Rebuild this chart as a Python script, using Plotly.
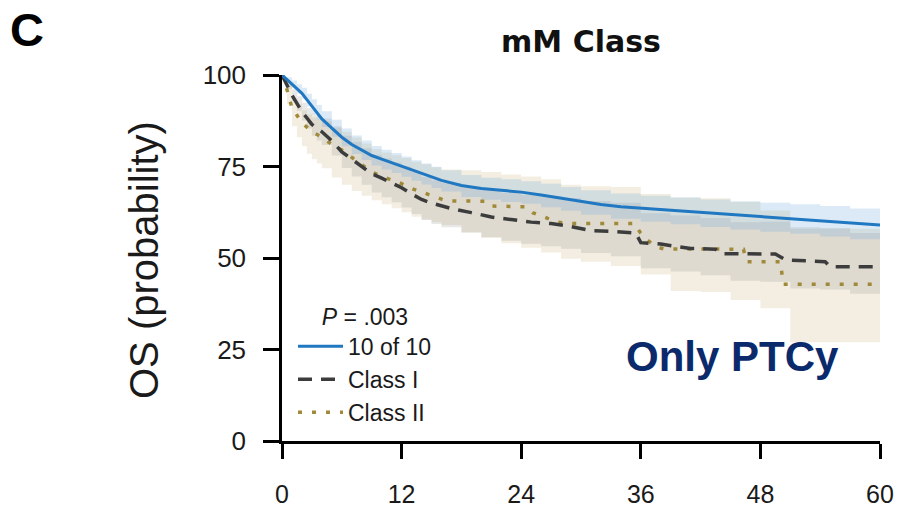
import plotly.graph_objects as go

# ---------------- data ----------------
months_ticks = [0, 12, 24, 36, 48, 60]
prob_ticks = [0, 25, 50, 75, 100]

t_1010 = [0, 1, 2, 3, 4, 5, 6, 7, 8, 9, 10, 11, 12, 14, 16, 18, 20, 22, 24, 26, 28, 30,
          32, 34, 36, 38, 40, 42, 44, 46, 48, 50, 52, 54, 56, 58, 60]
s_1010 = [100, 97.5, 95, 91.5, 88, 85.5, 83, 81, 79.5, 78, 77, 76, 75, 73, 71.2, 69.8, 69, 68.5, 68, 67.2, 66.3, 65.3,
          64.6, 64, 63.6, 63.2, 62.8, 62.4, 62, 61.6, 61.3, 61, 60.6, 60.2, 59.6, 59.2, 59]

t_c1 = [0, 1, 2, 3, 4, 5, 6, 7, 8, 9, 10, 11, 12, 13, 14, 15, 17, 19, 21, 23, 25, 27, 29, 31, 33,
        35.5, 36, 38, 39.5, 41, 43.5, 44, 49.5, 50.5, 54.5, 55, 60]
s_c1 = [100, 94.5, 90, 86.5, 84.5, 82, 79, 77, 75, 73, 71.8, 70.5, 69.2, 67.5, 66, 65, 63.5, 62.4, 61.2, 60.5, 59.8, 59.4, 58.6, 57.5, 57.3,
        56.8, 54.2, 53.8, 53.2, 52.6, 52.4, 51.2, 51.1, 49.5, 49, 47.6, 47.6]

t_c2 = [0, 0.5, 1, 2, 3, 4, 5, 6, 7, 8, 9, 10, 11, 12, 13, 14, 15.5, 16.5, 20.5, 21, 24.5, 25.2, 26.5, 27.5,
        29, 35.4, 35.9, 36.6, 37.6, 38.3, 46.3, 46.6, 50, 50.3, 60]
s_c2 = [100, 96, 91, 87, 84.5, 83, 81, 79.5, 77.5, 75.5, 73.5, 72.3, 71.3, 70.3, 69, 68, 66.4, 65.6, 65.5, 64.2, 64, 62.3, 61, 59.8,
        59.4, 59.4, 57.1, 55, 53, 52.5, 52.4, 49, 49, 42.8, 42.8]

# confidence bands (step functions)
band_t = [0, 0.5, 1, 1.5, 2, 2.5, 3, 3.5, 4, 5, 6, 7, 8, 9, 10, 11, 12, 13, 14, 15, 16, 18, 20, 22, 24,
          26, 28, 30, 33, 36, 39, 42, 45, 48, 51, 54, 57, 60]
up_1010 = [100, 99.4, 98.5, 97.5, 96.5, 94.9, 93.4, 91.8, 90.1, 87.8, 85.4, 83.5, 82.1, 80.6, 79.6, 78.7, 77.7, 76.7,
           75.8, 74.9, 74, 72.7, 71.9, 71.5, 71, 70.3, 69.4, 68.5, 67.6, 67, 66.5, 66, 65.5, 65.1, 64.7, 64.2, 63.5, 63.2]
lo_1010 = [100, 98.2, 96.5, 94.9, 93.5, 91.4, 89.5, 87.7, 85.8, 83.1, 80.5, 78.4, 76.8, 75.3, 74.2, 73.2, 72.2, 71.1,
           70.1, 69.1, 68.2, 66.7, 65.9, 65.3, 64.8, 63.9, 62.9, 61.8, 60.7, 59.9, 59.2, 58.5, 57.8, 57.2, 56.6, 55.9, 55.1, 54.7]
up_c1 = [100, 98.2, 96.1, 94.2, 92.4, 91, 89.6, 88.9, 88.1, 86, 83.4, 81.7, 80, 78.2, 77.2, 76.1, 75, 73.5,
         72.1, 71.2, 70.5, 69.5, 68.5, 67.8, 67.2, 66.8, 66.4, 65.6, 65.1, 62.2, 61.6, 60.9, 59.8, 59.9, 58.4, 58.2, 56.8, 56.8]
lo_c1 = [100, 96.2, 92.9, 90.2, 87.6, 85.4, 83.4, 82.1, 80.9, 78, 74.6, 72.3, 70, 67.9, 66.6, 65.2, 63.8, 62,
         60.4, 59.3, 58.4, 57, 55.7, 54.7, 53.9, 53.2, 52.5, 51.4, 50.5, 47.2, 46.3, 45.3, 43.8, 43.5, 41.7, 41.4, 40.2, 40.4]
up_c2 = [100, 97.5, 93.5, 92, 90.3, 89.3, 88.4, 87.8, 87.3, 85.6, 84.5, 82.9, 81.3, 79.7, 78.8, 78.1, 77.3, 76.3,
         75.6, 74.8, 74.2, 74, 73.5, 72.8, 72.3, 71.5, 70, 69.6, 69.4, 67.5, 66.5, 66.3, 65.3, 63, 58, 58, 58, 58]
lo_c2 = [100, 92, 86, 83, 80.5, 78.5, 77, 75.8, 74.5, 72, 70, 68.3, 67, 65.8, 64.7, 63.6, 62.5, 61.3,
         60.5, 59.8, 59, 57, 55.5, 54, 52.8, 51.5, 49.8, 49, 47.8, 45.5, 41, 40.7, 38.5, 36.3, 27, 27, 27, 27]

names = ["10 of 10", "Class I", "Class II"]
p_text = "<i>P</i> = .003"

# ---------------- styles ----------------
BLUE = "rgb(31,120,193)"
DARK = "rgb(60,60,60)"
OLIVE = "rgb(160,138,58)"
FONT = "Liberation Sans, Arial, Helvetica, sans-serif"

fig = go.Figure()

def band(t, lo, up, fillcolor):
    fig.add_trace(go.Scatter(x=t, y=lo, mode="lines", line=dict(width=0, shape="hv"),
                             showlegend=False, hoverinfo="skip"))
    fig.add_trace(go.Scatter(x=t, y=up, mode="lines", line=dict(width=0, shape="hv"),
                             fill="tonexty", fillcolor=fillcolor, showlegend=False, hoverinfo="skip"))

band(band_t, lo_c2, up_c2, "rgba(215,200,155,0.30)")
band(band_t, lo_c1, up_c1, "rgba(150,150,150,0.22)")
band(band_t, lo_1010, up_1010, "rgba(110,170,220,0.25)")

fig.add_trace(go.Scatter(x=t_c2, y=s_c2, mode="lines", name=names[2],
                         line=dict(color=OLIVE, width=3.5, dash="4px,10px"), cliponaxis=False))
fig.add_trace(go.Scatter(x=t_c1, y=s_c1, mode="lines", name=names[1],
                         line=dict(color=DARK, width=3.5, dash="14px,9px"), cliponaxis=False))
fig.add_trace(go.Scatter(x=t_1010, y=s_1010, mode="lines", name=names[0],
                         line=dict(color=BLUE, width=3), cliponaxis=False))

W, H = 903, 508
L, R, T, B = 282, 23, 75, 67
pw, ph = W - L - R, H - T - B

def px(x):
    return (x - L) / pw

def py(y):
    return (H - B - y) / ph

fig.update_layout(
    width=W, height=H,
    margin=dict(l=L, r=R, t=T, b=B, autoexpand=False),
    paper_bgcolor="white", plot_bgcolor="white",
    font=dict(family=FONT, color="#1a1a1a"),
    title=dict(text="<b>mM Class</b>", x=0.5, xref="paper", xanchor="center",
               y=1 - 41 / H, yref="container", yanchor="middle",
               font=dict(family="DejaVu Sans, sans-serif", size=30, color="#111111")),
    legend=dict(x=px(293), y=py(295), xanchor="left", yanchor="top",
                traceorder="reversed", bgcolor="rgba(0,0,0,0)",
                font=dict(size=23, family=FONT, color="#1a1a1a"),
                title=dict(text=p_text, side="top center", font=dict(size=23, family=FONT)),
                itemwidth=45),
    showlegend=True,
)

fig.update_xaxes(range=[0, 60], tickvals=months_ticks, ticktext=[str(v) for v in months_ticks],
                 showline=True, linecolor="black", linewidth=2.5, ticks="outside", ticklen=15,
                 tickwidth=2.5, tickcolor="black", showgrid=False, zeroline=False,
                 ticklabelstandoff=14, automargin=False,
                 tickfont=dict(size=25, family=FONT, color="#1a1a1a"), fixedrange=True)
fig.update_yaxes(range=[0, 100], tickvals=prob_ticks, ticktext=[str(v) for v in prob_ticks],
                 showline=True, linecolor="black", linewidth=2.5, ticks="outside", ticklen=16,
                 tickwidth=2.5, tickcolor="black", showgrid=False, zeroline=False,
                 ticklabelstandoff=12, automargin=False,
                 tickfont=dict(size=26, family=FONT, color="#1a1a1a"), fixedrange=True)

fig.add_annotation(text="OS (probability)", textangle=-90, x=px(144), y=py(260),
                   xref="paper", yref="paper", xanchor="center", yanchor="middle", showarrow=False,
                   font=dict(size=40, family=FONT, color="#1a1a1a"))
fig.add_annotation(text="<b>C</b>", x=px(27), y=py(2), xref="paper", yref="paper",
                   xanchor="center", yanchor="top", borderpad=0,
                   showarrow=False, font=dict(size=47, family=FONT, color="black"))
fig.add_annotation(text="<b>Only PTCy</b>", x=px(732), y=py(356), xref="paper", yref="paper",
                   xanchor="center", yanchor="middle",
                   showarrow=False, font=dict(size=42, family=FONT, color="#0b2a6c"))

fig.write_html("out.html", config={"displayModeBar": False},
               post_script="document.body.style.margin='0';document.body.style.padding='0';")
